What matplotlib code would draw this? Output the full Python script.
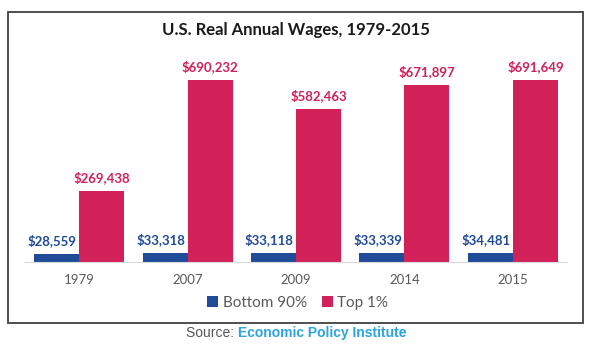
import numpy as np
import matplotlib.pyplot as plt
from matplotlib.patches import Rectangle

plt.rcParams['font.family'] = ['Lato', 'DejaVu Sans']

years = ['1979', '2007', '2009', '2014', '2015']
bottom90 = [28559, 33318, 33118, 33339, 34481]
top1 = [269438, 690232, 582463, 671897, 691649]

blue = '#1f4b99'
red = '#d22158'

fig = plt.figure(figsize=(5.92, 3.51), dpi=100)
ax = fig.add_axes([0.042, 0.2536, 0.916, 0.589])

x = np.arange(len(years))
w = 0.415
b1 = ax.bar(x - w / 2, bottom90, w, color=blue, label='Bottom 90%')
b2 = ax.bar(x + w / 2, top1, w, color=red, label='Top 1%')

for xi, v in zip(x, bottom90):
    ax.annotate('${:,}'.format(v), (xi - w / 2, v), xytext=(-3, 5), textcoords='offset points',
                ha='center', va='bottom', color=blue, fontsize=9.5, fontweight='bold')
for xi, v in zip(x, top1):
    ax.annotate('${:,}'.format(v), (xi + w / 2, v), xytext=(0, 5), textcoords='offset points',
                ha='center', va='bottom', color=red, fontsize=9.5, fontweight='bold')

ax.set_xlim(-0.5, 4.5)
ax.set_ylim(0, 785000)
ax.set_xticks(x)
ax.set_xticklabels(years, color='#595959', fontsize=9.5)
ax.tick_params(axis='x', length=0, pad=9)
ax.set_yticks([])
for s in ['top', 'right', 'left']:
    ax.spines[s].set_visible(False)
ax.spines['bottom'].set_color('#d9d9d9')

fig.legend(handles=[b1, b2], loc='center', bbox_to_anchor=(0.503, 0.137), ncol=2, frameon=False,
           fontsize=11, handlelength=0.7, handleheight=0.7, handletextpad=0.3, columnspacing=1.0,
           labelcolor='#595959')

fig.text(0.5, 0.915, 'U.S. Real Annual Wages, 1979-2015', ha='center', va='center',
         fontsize=12, fontweight='bold', color='#1a1a1a')

# frame around chart
fig.patches.append(Rectangle((8 / 592, 1 - 323 / 351), 575 / 592, 311 / 351, transform=fig.transFigure,
                             fill=False, edgecolor='#404040', linewidth=1.3))

# source line: grey + blue pieces, centred together
ys = 1 - 333 / 351
t1 = fig.text(0, ys, 'Source: ', ha='left', va='center', fontsize=10,
              color='#555555', family='Liberation Sans')
t2 = fig.text(0, ys, 'Economic Policy Institute', ha='left', va='center', fontsize=10,
              color='#2ba3e0', fontweight='bold', family='Liberation Sans')
fig.canvas.draw()
r = fig.canvas.get_renderer()
w1 = t1.get_window_extent(r).width
w2 = t2.get_window_extent(r).width
x0 = 296 - (w1 + w2) / 2
t1.set_x(x0 / 592)
t2.set_x((x0 + w1) / 592)

fig.savefig('out.png', dpi=100)
